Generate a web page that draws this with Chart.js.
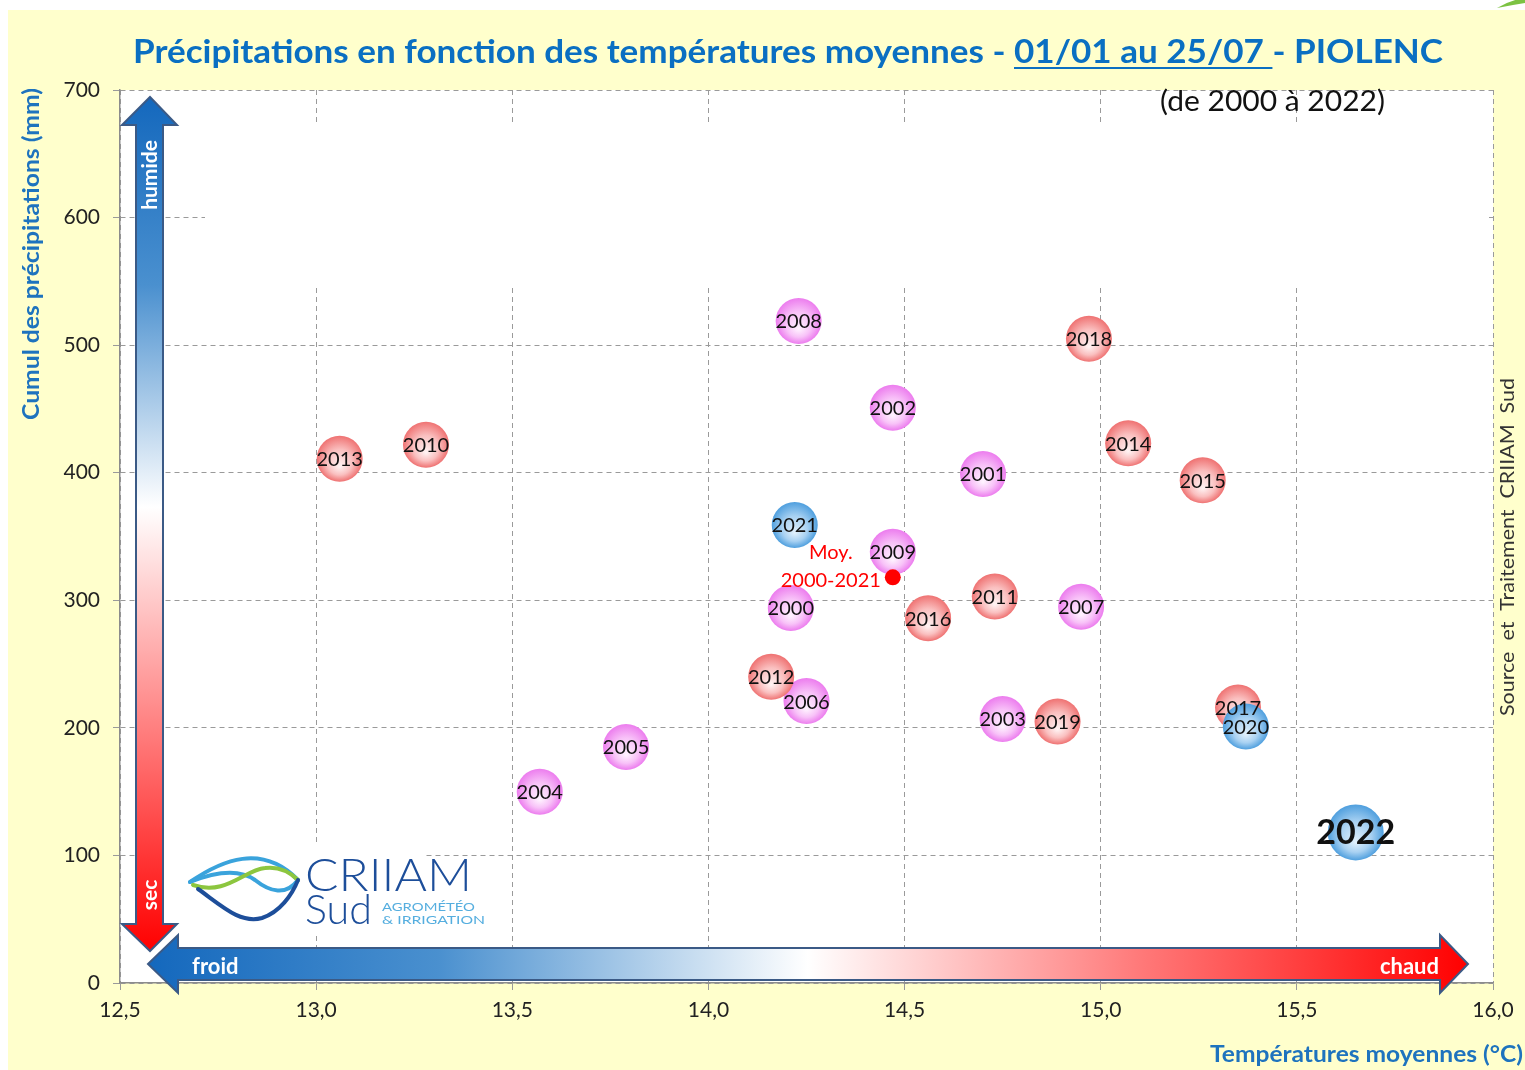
<!DOCTYPE html>
<html>
<head>
<meta charset="utf-8">
<script src="https://cdn.jsdelivr.net/npm/chart.js@4.4.0/dist/chart.umd.min.js"></script>
<style>
  html, body { margin: 0; padding: 0; background: #fff; overflow: hidden; }
  canvas { display: block; }
</style>
</head>
<body>
<canvas id="chart" width="1525" height="1070"></canvas>
<script>
// one bubble per year : mean temperature (°C) and cumulated rain (mm), 01/01 -> 25/07
const years  = [2000, 2001, 2002, 2003, 2004, 2005, 2006, 2007, 2008, 2009,
                2010, 2011, 2012, 2013, 2014, 2015, 2016, 2017, 2018, 2019,
                2020, 2021, 2022];
const temps  = [14.21, 14.70, 14.47, 14.75, 13.57, 13.79, 14.25, 14.95, 14.23, 14.47,
                13.28, 14.73, 14.16, 13.06, 15.07, 15.26, 14.56, 15.35, 14.97, 14.89,
                15.37, 14.22, 15.65];
const precip = [294, 399, 451, 207, 150, 185, 221, 295, 519, 338,
                422, 303, 240, 411, 423, 394, 286, 216, 505, 205,
                201, 359, 118];
const decades = ['2000-2009', '2010-2019', '2020-2022'];
const currentYear = 2022;

const meanTemp = 14.47;
const meanPrecip = 318;
const meanLabel = ['Moy.', '2000-2021'];

const titleParts = ['Précipitations en fonction des températures moyennes - ', '01/01 au 25/07 ', '- PIOLENC'];
const subtitle = '(de 2000 à 2022)';
const yTitle = 'Cumul des précipitations (mm)';
const xTitle = 'Températures moyennes (°C)';
const sourceText = 'Source  et  Traitement  CRIIAM  Sud';

const FONT = "Lato, 'Open Sans', sans-serif";
Chart.defaults.font.family = FONT;
Chart.defaults.color = '#222';

// centre / middle / edge colours of the bubbles, per decade
const bubbleColors = {
  '2000-2009': ['#fff4ff', '#f8c2f8', '#ec7cee'],
  '2010-2019': ['#fff4f4', '#fac0c0', '#ef7272'],
  '2020-2022': ['#e2f1fc', '#a8d1f2', '#4f9fde']
};

function decadeOf(y) {
  if (y < 2010) return decades[0];
  if (y < 2020) return decades[1];
  return decades[2];
}

function bubbleRadius(ctx) {
  return ctx.raw && ctx.raw.year === currentYear ? 28 : 23;
}

function bubbleFill(ctx) {
  const cols = bubbleColors[ctx.dataset.label];
  if (!ctx.raw) return cols[2];
  const chart = ctx.chart;
  const x = chart.scales.x.getPixelForValue(ctx.raw.x);
  const y = chart.scales.y.getPixelForValue(ctx.raw.y);
  if (!isFinite(x) || !isFinite(y)) return cols[2];
  const r = bubbleRadius(ctx);
  const g = chart.ctx.createRadialGradient(x, y + r * 0.35, 0, x, y, r);
  g.addColorStop(0, cols[0]);
  g.addColorStop(0.55, cols[1]);
  g.addColorStop(1, cols[2]);
  return g;
}

const datasets = decades.map((d, k) => ({
  label: d,
  data: years.map((yr, i) => ({ x: temps[i], y: precip[i], year: yr }))
             .filter(p => decadeOf(p.year) === d),
  backgroundColor: bubbleFill,
  borderWidth: 0,
  radius: bubbleRadius,
  order: 3 - k
}));
datasets.push({
  label: 'Moyenne',
  data: [{ x: meanTemp, y: meanPrecip }],
  backgroundColor: '#ff0000',
  borderWidth: 0,
  radius: 8,
  order: 0,
  isMean: true
});

function fitText(c, text, x, y, width) {
  const w = c.measureText(text).width;
  c.save();
  c.translate(x, y);
  c.scale(width / w, 1);
  c.fillText(text, 0, 0);
  c.restore();
}

function drawArrowV(c) {
  c.save();
  c.beginPath();
  c.moveTo(150, 97); c.lineTo(177, 125); c.lineTo(163, 125); c.lineTo(163, 924);
  c.lineTo(177, 924); c.lineTo(150, 951); c.lineTo(122, 924); c.lineTo(136, 924);
  c.lineTo(136, 125); c.lineTo(122, 125); c.closePath();
  const g = c.createLinearGradient(0, 97, 0, 951);
  g.addColorStop(0, '#1468bd');
  g.addColorStop(0.22, '#4a90cf');
  g.addColorStop(0.48, '#ffffff');
  g.addColorStop(0.75, '#ff7a7a');
  g.addColorStop(1, '#ff0000');
  c.fillStyle = g;
  c.fill();
  c.strokeStyle = '#3b5a86';
  c.lineWidth = 2;
  c.stroke();
  c.fillStyle = '#fff';
  c.font = 'bold 21px ' + FONT;
  c.textAlign = 'center';
  c.textBaseline = 'middle';
  c.save();
  c.translate(150, 175); c.rotate(-Math.PI / 2); c.fillText('humide', 0, 0);
  c.restore();
  c.translate(150, 895); c.rotate(-Math.PI / 2); c.fillText('sec', 0, 0);
  c.restore();
}

function drawArrowH(c) {
  c.save();
  c.beginPath();
  c.moveTo(148, 964); c.lineTo(178, 935); c.lineTo(178, 948); c.lineTo(1440, 948);
  c.lineTo(1440, 935); c.lineTo(1468, 964); c.lineTo(1440, 993); c.lineTo(1440, 980);
  c.lineTo(178, 980); c.lineTo(178, 993); c.closePath();
  const g = c.createLinearGradient(148, 0, 1468, 0);
  g.addColorStop(0, '#1468bd');
  g.addColorStop(0.22, '#4a90cf');
  g.addColorStop(0.5, '#ffffff');
  g.addColorStop(0.75, '#ff7a7a');
  g.addColorStop(1, '#ff0000');
  c.fillStyle = g;
  c.fill();
  c.strokeStyle = '#3b5a86';
  c.lineWidth = 2;
  c.stroke();
  c.fillStyle = '#fff';
  c.font = 'bold 22px ' + FONT;
  c.textBaseline = 'alphabetic';
  c.textAlign = 'left';
  c.fillText('froid', 192, 974);
  c.textAlign = 'right';
  c.fillText('chaud', 1439, 974);
  c.restore();
}

function drawLogo(c) {
  c.save();
  c.fillStyle = '#fff';
  c.fillRect(165, 846, 258, 88);
  c.lineCap = 'round';
  c.lineWidth = 4;
  c.strokeStyle = '#3aa3dc';
  c.beginPath();
  c.moveTo(190, 882); c.bezierCurveTo(222, 860, 262, 843, 298, 880);
  c.stroke();
  c.beginPath();
  c.moveTo(190, 882); c.bezierCurveTo(215, 872, 238, 868, 255, 880);
  c.bezierCurveTo(270, 892, 286, 896, 298, 880);
  c.stroke();
  c.strokeStyle = '#8cc63f';
  c.beginPath();
  c.moveTo(193, 885); c.bezierCurveTo(226, 896, 244, 870, 265, 868);
  c.bezierCurveTo(282, 866, 292, 874, 298, 880);
  c.stroke();
  c.strokeStyle = '#1d4e9a';
  c.beginPath();
  c.moveTo(198, 889); c.bezierCurveTo(222, 906, 240, 924, 262, 918);
  c.bezierCurveTo(280, 912, 292, 895, 298, 880);
  c.stroke();
  c.fillStyle = '#1d4e9a';
  c.textAlign = 'left';
  c.textBaseline = 'alphabetic';
  c.font = '300 46px ' + FONT;
  fitText(c, 'CRIIAM', 305, 891, 167);
  c.font = '300 42px ' + FONT;
  fitText(c, 'Sud', 305, 924, 67);
  c.fillStyle = '#55aedf';
  c.font = '12px ' + FONT;
  fitText(c, 'AGROMÉTÉO', 382, 911, 93);
  fitText(c, '& IRRIGATION', 382, 924, 103);
  c.restore();
}

const decorPlugin = {
  id: 'decor',
  beforeDraw(chart) {
    const c = chart.ctx, a = chart.chartArea;
    c.save();
    c.fillStyle = '#ffffff';
    c.fillRect(0, 0, chart.width, chart.height);
    c.fillStyle = '#ffffcc';
    c.fillRect(8, 10, chart.width - 8, chart.height - 10);
    c.fillStyle = '#ffffff';
    c.fillRect(a.left, a.top, a.right - a.left, a.bottom - a.top);
    // green leaf tip top right
    c.fillStyle = '#7cc242';
    c.beginPath();
    c.moveTo(1497, 8); c.quadraticCurveTo(1510, 0, 1525, -2); c.lineTo(1525, 3);
    c.quadraticCurveTo(1512, 5, 1497, 8); c.fill();
    c.restore();
  },
  beforeDatasetsDraw(chart) {
    const c = chart.ctx;
    c.save();
    c.fillStyle = '#ffffff';
    c.fillRect(205, 122, 1284, 163);   // empty text box hiding the grid
    c.restore();
    drawLogo(c);
    drawArrowV(c);
    drawArrowH(c);
  },
  afterDatasetsDraw(chart) {
    const c = chart.ctx;
    c.save();
    c.textAlign = 'center';
    c.textBaseline = 'middle';
    chart.data.datasets.forEach((ds, i) => {
      const meta = chart.getDatasetMeta(i);
      meta.data.forEach((pt, j) => {
        if (ds.isMean) {
          c.fillStyle = '#ff0000';
          c.font = '20px ' + FONT;
          c.fillText(meanLabel[0], pt.x - 62, pt.y - 25);
          c.fillText(meanLabel[1], pt.x - 62, pt.y + 3);
          return;
        }
        const yr = ds.data[j].year;
        c.fillStyle = '#111';
        c.font = yr === currentYear ? 'bold 34px ' + FONT : '20px ' + FONT;
        c.fillText(String(yr), pt.x, pt.y + 1);
      });
    });
    c.restore();
  },
  afterDraw(chart) {
    const c = chart.ctx;
    c.save();
    // main title, with underlined period
    c.font = 'bold 33px ' + FONT;
    c.fillStyle = '#0a6fc2';
    c.textBaseline = 'alphabetic';
    c.textAlign = 'left';
    const widths = titleParts.map(t => c.measureText(t).width);
    const total = widths.reduce((s, w) => s + w, 0);
    c.translate(133, 63);
    c.scale(1310 / total, 1);
    let x = 0;
    titleParts.forEach((t, i) => {
      c.fillText(t, x, 0);
      if (i === 1) c.fillRect(x, 4, widths[i], 2);
      x += widths[i];
    });
    c.restore();

    c.save();
    c.textAlign = 'left';
    c.textBaseline = 'middle';
    c.fillStyle = '#111';
    c.font = '28px ' + FONT;
    fitText(c, subtitle, 1160, 102, 225);

    c.fillStyle = '#1e73be';
    c.font = 'bold 23px ' + FONT;
    fitText(c, xTitle, 1210, 1055, 313);

    c.save();
    c.translate(32, 420);
    c.rotate(-Math.PI / 2);
    fitText(c, yTitle, 0, 0, 332);
    c.restore();

    c.fillStyle = '#333';
    c.font = '20px ' + FONT;
    c.translate(1508, 716);
    c.rotate(-Math.PI / 2);
    fitText(c, sourceText, 0, 0, 338);
    c.restore();
  }
};

new Chart(document.getElementById('chart'), {
  type: 'bubble',
  data: { datasets: datasets },
  options: {
    responsive: false,
    animation: false,
    events: [],
    layout: { padding: { left: 10, top: 90, right: 32, bottom: 0 } },
    plugins: {
      legend: { display: false },
      tooltip: { enabled: false },
      title: { display: false }
    },
    scales: {
      x: {
        type: 'linear',
        min: 12.5,
        max: 16,
        afterFit: s => { s.height = 87; },
        ticks: {
          stepSize: 0.5,
          padding: 8,
          font: { size: 21 },
          color: '#222',
          callback: v => v.toFixed(1).replace('.', ',')
        },
        grid: { color: '#9a9a9a', tickLength: 7, lineWidth: 1 },
        border: { color: '#8c8c8c', width: 1.5, dash: [5, 4] }
      },
      y: {
        type: 'linear',
        min: 0,
        max: 700,
        afterFit: s => { s.width = 110; },
        ticks: {
          stepSize: 100,
          padding: 13,
          font: { size: 21 },
          color: '#222'
        },
        grid: { color: '#9a9a9a', tickLength: 7, lineWidth: 1 },
        border: { color: '#8c8c8c', width: 1.5, dash: [5, 4] }
      }
    }
  },
  plugins: [decorPlugin]
});
</script>
</body>
</html>
